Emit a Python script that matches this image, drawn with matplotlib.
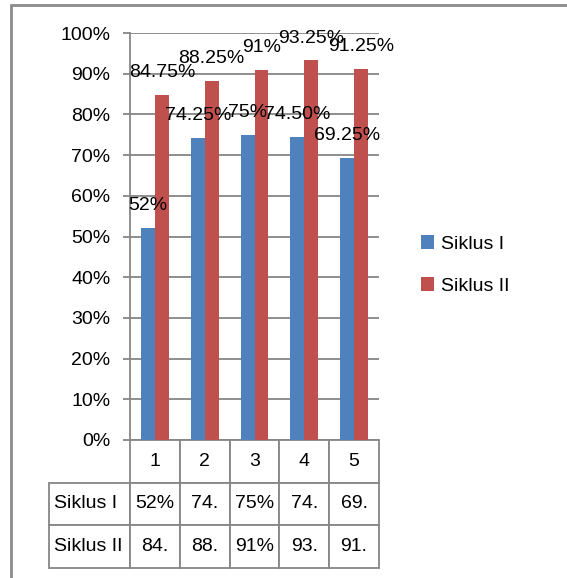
import matplotlib.pyplot as plt
from matplotlib.patches import Rectangle
import numpy as np

categories = ["1", "2", "3", "4", "5"]
siklus1 = [52, 74.25, 75, 74.5, 69.25]
siklus2 = [84.75, 88.25, 91, 93.25, 91.25]
labels1 = ["52%", "74.25%", "75%", "74.50%", "69.25%"]
labels2 = ["84.75%", "88.25%", "91%", "93.25%", "91.25%"]
series_names = ["Siklus I", "Siklus II"]
yticks = [0, 10, 20, 30, 40, 50, 60, 70, 80, 90, 100]

BLUE = "#4f81bd"
RED = "#c0504d"
GRID = "#868686"
FS = 14

plt.rcParams["font.family"] = ["Liberation Sans Narrow", "Liberation Sans", "DejaVu Sans"]
plt.rcParams["font.size"] = FS

W, H = 567, 578
fig = plt.figure(figsize=(W / 100, H / 100), dpi=100)

# outer chart border (runs off the right and bottom edges)
fig.patches.append(Rectangle((11 / W, -0.1), 1.2, 1 - 5 / H + 0.1,
                             transform=fig.transFigure, fill=False,
                             edgecolor="#8c8c8c", linewidth=2))

# plot area in pixels: x 130..379, y 33..440
ax = fig.add_axes([130 / W, 1 - 440 / H, 249 / W, 407 / H])

x = np.arange(len(categories))
bw = 0.28
b1 = ax.bar(x - bw / 2, siklus1, bw, color=BLUE, label=series_names[0], zorder=3)
b2 = ax.bar(x + bw / 2, siklus2, bw, color=RED, label=series_names[1], zorder=3)

for bars, labs in ((b1, labels1), (b2, labels2)):
    for rect, lab in zip(bars, labs):
        ax.annotate(lab, (rect.get_x() + rect.get_width() / 2, rect.get_height()),
                    xytext=(0, 10), textcoords="offset points",
                    ha="center", va="bottom", fontsize=FS, zorder=5)

ax.set_xlim(-0.5, len(categories) - 0.5)
ax.set_ylim(0, 100)
ax.set_yticks(yticks)
ax.set_yticklabels([f"{t}%" for t in yticks])
ax.set_xticks([])
ax.yaxis.grid(True, color=GRID, linewidth=1.3, zorder=0)
ax.tick_params(axis="y", length=5, color=GRID, width=1.3, pad=9)
for s in ("top", "right", "bottom"):
    ax.spines[s].set_visible(False)
ax.spines["left"].set_color(GRID)
ax.spines["left"].set_linewidth(1.3)

# data table under the plot (bbox covers the value columns only)
cell1 = [f"{v:g}%"[:3] for v in siklus1]
cell2 = [f"{v:g}%"[:3] for v in siklus2]
lab_w = 81 / 249
col_w = 1 / len(categories)
tbl = ax.table(cellText=[cell1, cell2], colLabels=categories, cellLoc="center",
               colWidths=[col_w] * len(categories),
               bbox=[0, -128 / 407, 1, 128 / 407])
row_h = tbl[1, 0].get_height()
for i, name in enumerate(series_names):
    tbl.add_cell(i + 1, -1, width=lab_w, height=row_h, text=name, loc="left")
tbl.auto_set_font_size(False)
tbl.set_fontsize(FS)
for (r, c), cell in tbl.get_celld().items():
    cell.set_edgecolor(GRID)
    cell.set_linewidth(1.3)
    if c == -1:
        cell.PAD = 0.06

fig.legend(handles=[b1, b2], labels=series_names, loc="upper left",
           bbox_to_anchor=(403 / W, 1 - 218 / H), frameon=False,
           handlelength=0.7, handleheight=0.7, handletextpad=0.35,
           labelspacing=1.25, fontsize=FS)

plt.savefig("out.png", dpi=100)
